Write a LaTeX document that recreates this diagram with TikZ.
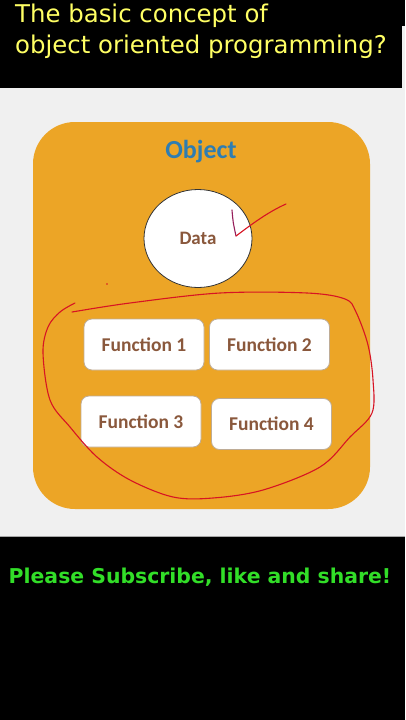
\documentclass[tikz,border=0pt]{standalone}
\usepackage{fontspec}
\setmainfont{DejaVu Sans}
\newfontfamily\carlito{Carlito}
\usetikzlibrary{shapes.geometric}
\definecolor{orangebg}{RGB}{236,165,38}
\definecolor{objblue}{RGB}{46,125,178}
\definecolor{fnbrown}{RGB}{138,88,60}
\definecolor{titleyellow}{RGB}{255,255,100}
\definecolor{subgreen}{RGB}{50,222,40}
\definecolor{panelgray}{RGB}{240,240,240}
\definecolor{penred}{RGB}{215,20,35}
\definecolor{penpurple}{RGB}{150,30,90}
\definecolor{boxedge}{RGB}{190,172,150}
\tikzset{
  fnbox/.style={draw=boxedge, line width=0.8pt, fill=white, rounded corners=8pt,
    minimum width=120pt, minimum height=51pt, inner sep=0pt,
    text=fnbrown, font=\carlito\bfseries\fontsize{19.5}{20}\selectfont,
    text height=13pt, text depth=0pt},
  pen/.style={penred, line width=1.1pt, line cap=round, line join=round},
}
\begin{document}
\begin{tikzpicture}[x=1pt,y=-1pt]
\useasboundingbox (0,0) rectangle (405,720);
\fill[black] (0,0) rectangle (405,720);
\fill[panelgray] (0,88) rectangle (405,536);
\fill[panelgray] (401.5,26) rectangle (405,88);
\draw[gray!70, line width=0.8pt] (0,536) -- (405,536);
% titles
\node[anchor=base west, inner sep=0pt, text=titleyellow, font=\fontsize{24.4}{30}\selectfont] (t1) at (15,23) {The basic concept of};
\node[anchor=base west, inner sep=0pt, text=titleyellow, font=\fontsize{24.4}{30}\selectfont] (t2) at (15,53) {object oriented programming?};
% object
\fill[orangebg, rounded corners=42pt] (33,122) rectangle (370,509);
\node[anchor=base, inner sep=0pt, text=objblue, font=\carlito\bfseries\fontsize{26}{28}\selectfont] (obj) at (201,158) {Object};
\node[ellipse, draw=black!80, line width=0.8pt, fill=white, minimum width=108pt, minimum height=98pt, inner sep=0pt,
  text=fnbrown, font=\carlito\bfseries\fontsize{19}{20}\selectfont, text height=12.6pt, text depth=0pt] (data) at (198,238.5) {Data};
\node[fnbox] (f1) at (144,344.5) {Function 1};
\node[fnbox] (f2) at (269.5,344.5) {Function 2};
\node[fnbox] (f3) at (141,421.5) {Function 3};
\node[fnbox] (f4) at (271.5,424) {Function 4};
% freehand marks
\draw[pen] plot[smooth, tension=0.55] coordinates {(75,303) (60,312) (48,327) (43,353) (50,400) (70,427) (97,457) (130,480) (173,497) (213,498) (263,490) (320,467) (350,437) (372,413) (373,380) (368,345) (356,312) (345,299) (307,293) (220,293) (130,303) (72,312)};
\draw[penpurple, line width=1.1pt, line cap=round] (232,210) .. controls (233,222) .. (236,236);
\draw[pen] (236,236) .. controls (252,224) and (268,212) .. (286,204);
\fill[penred] (107,284) circle (0.8pt);
% footer
\node[anchor=base, inner sep=0pt, text=subgreen, font=\bfseries\fontsize{20.4}{22}\selectfont] (sub) at (200,583) {Please Subscribe, like and share!};
\end{tikzpicture}
\end{document}
